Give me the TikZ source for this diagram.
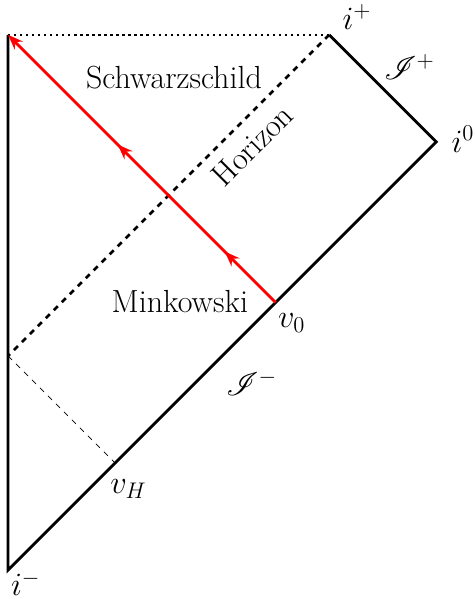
\documentclass[tikz,border=0pt]{standalone}
\usepackage{amsmath}
\usepackage{amssymb}
\usepackage{mathrsfs}
\usetikzlibrary{arrows.meta}
\usetikzlibrary{decorations.markings}

\begin{document}
\begin{tikzpicture}[
        every node/.style={font=\fontsize{17}{20}\selectfont},
        bound/.style={line width=1.5pt},
        ray/.style={red,line width=1.5pt,
            decoration={markings,
                mark=at position 0.19 with {\arrow{Stealth[length=8pt,width=6pt]}},
                mark=at position 0.59 with {\arrow{Stealth[length=8pt,width=6pt]}}},
            postaction={decorate},-{Stealth[length=8pt,width=6pt]}}]
        \useasboundingbox (-0.15,-0.54) rectangle (8.71,10.65);

        \coordinate (im) at (0,0);
        \coordinate (i0) at (8,8);
        \coordinate (ip) at (6,10);
        \coordinate (top) at (0,10);
        \coordinate (hor) at (0,4);
        \coordinate (vH) at (2,2);
        \coordinate (v0) at (5,5);

        \draw[bound] (top) -- (im) -- (i0) -- (ip);
        \draw[line width=1.2pt,dotted] (top) -- (ip);
        \draw[line width=1.5pt,dashed] (ip) -- (hor);
        \draw[dashed] (hor) -- (vH);
        \draw[ray] (v0) -- (top);

        \node (lip) at (6.52,10.33) {$i^+$};
        \node (li0) at (8.5,8.05) {$i^0$};
        \node (lim) at (0.33,-0.25) {$i^-$};
        \node (scrp) at (7.5,9.4) {$\mathscr{I}^+$};
        \node (scrm) at (4.55,3.5) {$\mathscr{I}^-$};
        \node (schw) at (3.1,9.2) {Schwarzschild};
        \node (mink) at (3.21,5.01) {Minkowski};
        \node[rotate=45] (hlab) at (4.56,7.93) {Horizon};
        \node (lv0) at (5.3,4.62) {$v_0$};
        \node (lvH) at (2.25,1.52) {$v_H$};
    \end{tikzpicture}
\end{document}
